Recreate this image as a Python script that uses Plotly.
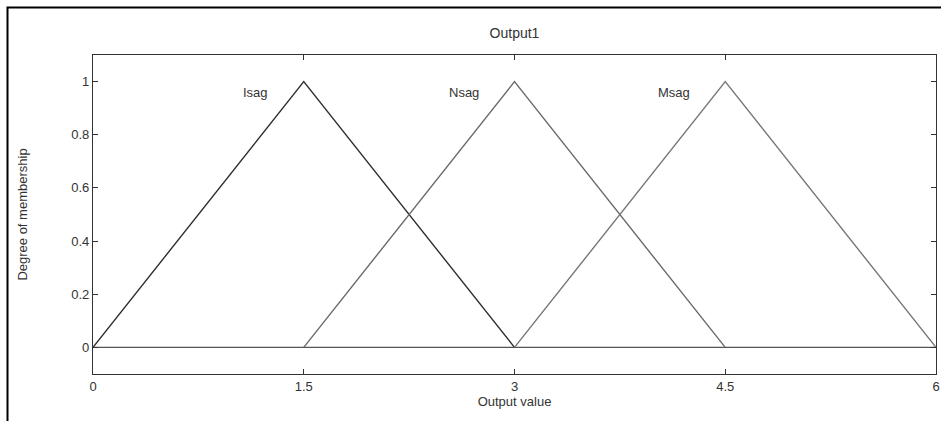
import plotly.graph_objects as go

mf_names = ["Isag", "Nsag", "Msag"]
mf_a = [0.0, 1.5, 3.0]
mf_b = [1.5, 3.0, 4.5]
mf_c = [3.0, 4.5, 6.0]
mf_colors = ["#2e2e2e", "#6a6a6a", "#767676"]
x_ticks = [0, 1.5, 3, 4.5, 6]
x_tick_labels = ["0", "1.5", "3", "4.5", "6"]
y_ticks = [0, 0.2, 0.4, 0.6, 0.8, 1]
y_tick_labels = ["0", "0.2", "0.4", "0.6", "0.8", "1"]
baseline_x = [0, 6]
baseline_y = [0, 0]

W, H = 941, 421
L, R, T, B = 93, 5, 55, 47
PW, PH = W - L - R, H - T - B

fig = go.Figure()
fig.add_trace(go.Scatter(x=baseline_x, y=baseline_y, mode="lines",
                         line=dict(color="#555555", width=1.3), showlegend=False, hoverinfo="skip"))
for name, a, b, c, col in zip(mf_names, mf_a, mf_b, mf_c, mf_colors):
    fig.add_trace(go.Scatter(x=[a, b, c], y=[0, 1, 0], mode="lines", name=name,
                             line=dict(color=col, width=1.4), showlegend=False))
    fig.add_annotation(x=b - 0.24, y=0.96, xref="x", yref="y", text=name, showarrow=False,
                       xanchor="right", yanchor="middle",
                       font=dict(family="Liberation Sans, Arial, sans-serif", size=13, color="#333333"))

font = dict(family="Liberation Sans, Arial, sans-serif", size=13, color="#333333")
fig.update_layout(
    width=W, height=H,
    margin=dict(l=L, r=R, t=T, b=B),
    paper_bgcolor="white", plot_bgcolor="white",
    font=font,
    title=dict(text="Output1", x=(L + PW / 2) / W, xanchor="center", y=1 - 33 / H, yanchor="middle",
               font=dict(family="Liberation Sans, Arial, sans-serif", size=14, color="#333333")),
)
fig.update_xaxes(range=[0, 6], tickvals=x_ticks, ticktext=x_tick_labels, ticks="inside", ticklen=5,
                 tickcolor="#333333", showline=True, linecolor="#333333", linewidth=1.2, mirror="ticks",
                 showgrid=False, zeroline=False, automargin=False, ticklabeloverflow="allow",
                 title=dict(text="Output value", standoff=4, font=font))
fig.update_yaxes(range=[-0.1, 1.1], tickvals=y_ticks, ticktext=y_tick_labels, ticks="inside", ticklen=5,
                 tickcolor="#333333", showline=True, linecolor="#333333", linewidth=1.2, mirror="ticks",
                 showgrid=False, zeroline=False, automargin=False,
                 title=dict(text="Degree of membership", standoff=40, font=font))


def px_to_paper_x(xf):
    return (xf - L) / PW


def px_to_paper_y(yf):
    return (H - B - yf) / PH


# outer border of the figure panel (open at the right and bottom, as in the cropped original)
fig.add_shape(type="rect", xref="paper", yref="paper",
              x0=px_to_paper_x(7.5), x1=px_to_paper_x(W + 20),
              y0=px_to_paper_y(H + 20), y1=px_to_paper_y(7.5),
              line=dict(color="black", width=2), fillcolor="rgba(0,0,0,0)", layer="below")

fig.write_html("out.html", config={"displayModeBar": False},
               post_script="document.body.style.margin='0px';document.body.style.overflow='hidden';")
